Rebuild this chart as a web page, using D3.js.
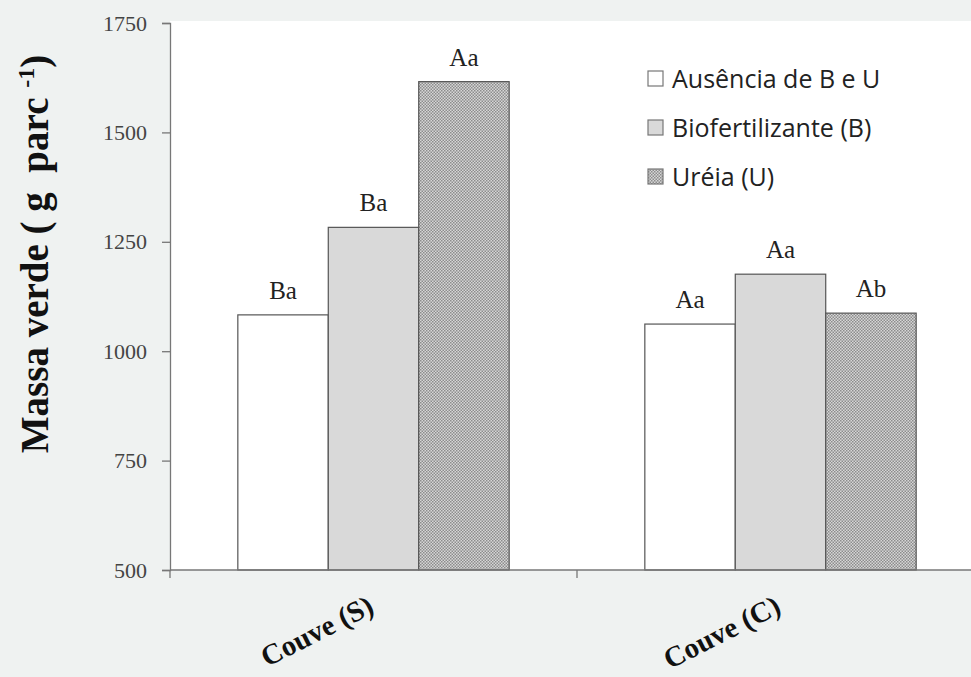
<!DOCTYPE html>
<html><head><meta charset="utf-8">
<script src="https://cdn.jsdelivr.net/npm/d3@7"></script>
<style>
body{margin:0;background:#eff2f1;}
svg{display:block;}
</style></head>
<body>
<svg id="chart" width="971" height="677"></svg>
<script>
const categories = ["Couve (S)", "Couve (C)"];
const seriesNames = ["Ausência de B e U", "Biofertilizante (B)", "Uréia (U)"];
const ausencia = [1083, 1062];
const biofert = [1283, 1176];
const ureia = [1616, 1087];
const lettersAusencia = ["Ba", "Aa"];
const lettersBiofert = ["Ba", "Aa"];
const lettersUreia = ["Aa", "Ab"];
const yTicks = [500, 750, 1000, 1250, 1500, 1750];

const series = [
  {name: seriesNames[0], values: ausencia, letters: lettersAusencia, fill: "#ffffff"},
  {name: seriesNames[1], values: biofert, letters: lettersBiofert, fill: "#d9d9d9"},
  {name: seriesNames[2], values: ureia, letters: lettersUreia, fill: "url(#dots)"}
];

const serif = "'Liberation Serif','Times New Roman',serif";
const svg = d3.select("#chart");
const defs = svg.append("defs");
const pat = defs.append("pattern").attr("id","dots").attr("patternUnits","userSpaceOnUse")
  .attr("width",3).attr("height",3);
pat.append("rect").attr("width",3).attr("height",3).attr("fill","#d6d6d6");
pat.append("rect").attr("x",0).attr("y",0).attr("width",1.5).attr("height",1.5).attr("fill","#8c8c8c");
pat.append("rect").attr("x",1.5).attr("y",1.5).attr("width",1.5).attr("height",1.5).attr("fill","#8c8c8c");

const m = {left:170, top:23, bottom:570};
const xRight = 984;

const y = d3.scaleLinear().domain([500,1750]).range([m.bottom, m.top]);
const x0 = d3.scaleBand().domain(categories).range([m.left, xRight]).padding(0);
const x1 = d3.scaleBand().domain(seriesNames).range([0, x0.bandwidth()]).paddingInner(0).paddingOuter(0.75);

// plot area
svg.append("rect").attr("x", m.left).attr("y", m.top - 2).attr("width", 971 - m.left).attr("height", m.bottom - m.top + 2).attr("fill","#ffffff");

// bars
const g = svg.append("g");
series.forEach(s => {
  categories.forEach((c, i) => {
    const bx = x0(c) + x1(s.name);
    g.append("rect")
      .attr("x", bx).attr("y", y(s.values[i]))
      .attr("width", x1.bandwidth()).attr("height", y(500) - y(s.values[i]))
      .attr("fill", s.fill).attr("stroke", "#555").attr("stroke-width", 1.2);
    g.append("text")
      .attr("x", bx + x1.bandwidth()/2).attr("y", y(s.values[i]) - 16)
      .attr("text-anchor","middle")
      .attr("font-family",serif)
      .attr("font-size",25).attr("fill","#222")
      .text(s.letters[i]);
  });
});

// y axis
const yAxis = d3.axisLeft(y).tickValues(yTicks).tickFormat(d3.format("d")).tickSize(8).tickPadding(15);
const ya = svg.append("g").attr("transform",`translate(${m.left},0)`).call(yAxis);
ya.select(".domain").attr("stroke","#777").attr("stroke-width",1.3);
ya.selectAll(".tick line").attr("stroke","#777").attr("stroke-width",1.3);
ya.selectAll(".tick text").attr("font-family",serif)
  .attr("font-size",22).attr("fill","#444");

// x axis
const xa = svg.append("g").attr("transform",`translate(0,${m.bottom})`);
xa.append("line").attr("x1",m.left).attr("x2",971).attr("y1",0).attr("y2",0).attr("stroke","#777").attr("stroke-width",1.3);
const xTickPos = categories.map(c => x0(c)).concat([xRight]);
xa.selectAll("line.tk").data(xTickPos).enter().append("line").attr("class","tk")
  .attr("x1",d=>d).attr("x2",d=>d).attr("y1",0).attr("y2",8).attr("stroke","#777").attr("stroke-width",1.3);

categories.forEach(c => {
  const cx = x0(c) + x0.bandwidth()/2;
  svg.append("text")
    .attr("transform",`translate(${cx + 2},${612}) rotate(-27)`)
    .attr("text-anchor","end")
    .attr("font-family",serif)
    .attr("font-weight","bold").attr("font-size",29).attr("fill","#111")
    .text(c);
});

// y title
const yt = svg.append("text")
  .attr("transform","translate(48,254) rotate(-90)")
  .attr("text-anchor","middle")
  .attr("xml:space","preserve")
  .style("white-space","pre")
  .attr("font-family",serif)
  .attr("font-weight","bold").attr("font-size",39).attr("fill","#111");
yt.append("tspan").text("Massa verde ( g  parc ");
yt.append("tspan").attr("font-size",24).attr("dy",-14).text("-1");
yt.append("tspan").attr("dy",14).text(")");

// legend
const leg = svg.append("g");
series.forEach((s, i) => {
  const ly = 79 + i*49;
  leg.append("rect").attr("x",648).attr("y",ly-8).attr("width",15).attr("height",15)
    .attr("fill",s.fill).attr("stroke","#777").attr("stroke-width",1.2);
  leg.append("text").attr("x",672).attr("y",ly).attr("dy","0.35em")
    .attr("font-family","'Open Sans','Noto Sans',sans-serif").attr("font-size",25).attr("fill","#222")
    .text(s.name);
});
</script>
</body></html>
